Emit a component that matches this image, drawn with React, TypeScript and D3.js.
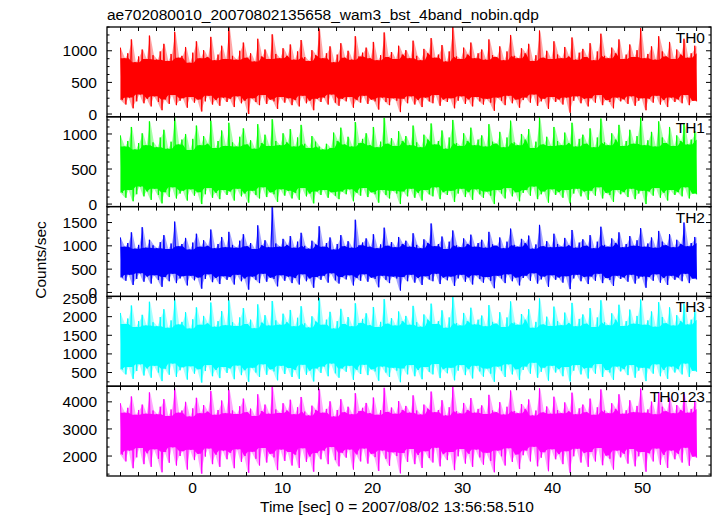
import React from 'react';
import * as d3 from 'd3';

// ---- data ----
const T_START = -8;
const T_END = 56;
const X_TICK_VALUES = d3.range(-8, 57, 2);
const X_TICK_LABELS = [0, 10, 20, 30, 40, 50];

const TITLE = 'ae702080010_20070802135658_wam3_bst_4band_nobin.qdp';
const X_TITLE = 'Time [sec] 0 = 2007/08/02 13:56:58.510';
const Y_TITLE = 'Counts/sec';

const panelNames = ['TH0', 'TH1', 'TH2', 'TH3', 'TH0123'];
const panelColors = ['#ff0000', '#00ff00', '#0000ff', '#00ffff', '#ff00ff'];
const panelDomains = [[-44, 1376], [-36, 1245], [-85, 1842], [133, 2544], [1263, 4578]];
const panelTickLabels = [
  [0, 500, 1000],
  [0, 500, 1000],
  [0, 500, 1000, 1500],
  [500, 1000, 1500, 2000, 2500],
  [2000, 3000, 4000],
];
const panelMajorStep = [500, 500, 500, 500, 1000];
const panelMinorDiv = [4, 5, 3, 2, 3];

// upper / lower envelope per 0.4 s bin
const th0Hi = [
  1050, 880, 960, 1180, 820, 910, 1020, 870, 1240, 930,
  860, 990, 1110, 840, 950, 1300, 890, 920, 1060, 810,
  970, 1150, 880, 1010, 900, 1220, 850, 940, 1080, 870,
  1380, 920, 860, 1000, 1130, 890, 960, 830, 1190, 910,
  1020, 870, 1260, 950, 880, 1040, 920, 1100, 860, 990,
  1170, 900, 840, 1010, 930, 1350, 880, 960, 1070, 820,
  940, 1120, 890, 1000, 860, 1230, 910, 970, 1050, 880,
  1140, 850, 930, 1290, 900, 980, 870, 1080, 940, 1010,
  880, 1160, 920, 850, 1030, 960, 1200, 890, 940, 1090,
  830, 990, 1380, 910, 870, 1050, 940, 1130, 880, 960,
  1020, 860, 1180, 930, 900, 1070, 850, 990, 1250, 920,
  880, 1040, 960, 1110, 840, 930, 1320, 890, 1000, 870,
  1150, 940, 880, 1060, 910, 1210, 860, 970, 1030, 900,
  1120, 850, 990, 1270, 920, 880, 1050, 960, 1180, 870,
  940, 1100, 900, 1010, 1360, 880, 950, 1070, 860, 1230,
  990, 910, 1140, 870, 1020, 940, 1190, 890, 960, 1080,
];
const th0Lo = [
  220, 150, 260, 90, 200, 310, 170, 240, 120, 280,
  190, 60, 230, 160, 300, 140, 210, 250, 100, 270,
  180, 230, 40, 200, 290, 150, 220, 130, 260, 190,
  240, 110, 280, 170, 210, 0, 250, 190, 140, 300,
  160, 230, 200, 80, 270, 180, 250, 140, 220, 120,
  290, 170, 210, 60, 240, 190, 260, 150, 310, 180,
  130, 240, 200, 270, 100, 220, 180, 290, 160, 230,
  200, 70, 260, 190, 140, 250, 210, 30, 240, 170,
  280, 150, 220, 110, 260, 200, 170, 300, 130, 230,
  190, 250, 90, 210, 280, 160, 230, 120, 270, 200,
  150, 240, 180, 50, 260, 210, 140, 290, 170, 230,
  100, 220, 260, 180, 310, 130, 200, 240, 80, 270,
  190, 230, 150, 260, 20, 210, 280, 170, 240, 120,
  250, 180, 300, 140, 220, 190, 90, 260, 200, 230,
  160, 280, 130, 210, 250, 60, 240, 180, 290, 150,
  220, 110, 260, 190, 230, 170, 300, 140, 210, 200,
];
const th1Hi = [
  980, 820, 900, 1100, 780, 870, 1010, 840, 1180, 880,
  810, 950, 1060, 790, 890, 1240, 850, 920, 1000, 770,
  930, 1120, 840, 970, 860, 1190, 800, 900, 1050, 830,
  1160, 880, 820, 960, 1080, 850, 910, 790, 1140, 870,
  990, 830, 1210, 900, 840, 1010, 880, 1070, 820, 950,
  1130, 860, 800, 970, 890, 820, 780, 860, 800, 1020,
  900, 1090, 850, 960, 820, 1170, 870, 930, 1010, 840,
  1100, 810, 890, 1230, 860, 940, 830, 1040, 900, 970,
  840, 1120, 880, 810, 990, 920, 1150, 850, 900, 1050,
  790, 950, 1200, 870, 830, 1010, 900, 1090, 840, 920,
  980, 820, 1140, 890, 860, 1030, 810, 950, 1190, 880,
  840, 1000, 920, 1070, 800, 890, 1240, 850, 960, 830,
  1100, 900, 840, 1020, 870, 1160, 820, 930, 990, 860,
  1080, 810, 950, 1220, 880, 840, 1010, 920, 1130, 830,
  900, 1060, 860, 970, 1240, 840, 910, 1030, 820, 1180,
  950, 870, 1100, 830, 980, 900, 1150, 850, 920, 1040,
];
const th1Lo = [
  160, 90, 200, 40, 140, 250, 110, 180, 60, 220,
  130, 10, 170, 100, 240, 80, 150, 190, 50, 210,
  120, 170, 0, 140, 230, 90, 160, 70, 200, 130,
  180, 50, 220, 110, 150, 20, 190, 130, 80, 240,
  100, 170, 140, 30, 210, 120, 190, 80, 160, 60,
  230, 110, 150, 10, 180, 130, 200, 90, 170, 120,
  70, 180, 140, 210, 40, 160, 120, 230, 100, 170,
  140, 20, 200, 130, 80, 190, 150, 0, 180, 110,
  220, 90, 160, 50, 200, 140, 110, 240, 70, 170,
  130, 190, 30, 150, 220, 100, 170, 60, 210, 140,
  90, 180, 120, 0, 200, 150, 80, 230, 110, 170,
  40, 160, 200, 120, 250, 70, 140, 180, 20, 210,
  130, 170, 90, 200, 10, 150, 220, 110, 180, 60,
  190, 120, 240, 80, 160, 130, 30, 200, 140, 170,
  100, 220, 70, 150, 190, 0, 180, 120, 230, 90,
  160, 50, 200, 130, 170, 110, 240, 80, 150, 140,
];
const th2Hi = [
  1180, 980, 1060, 1290, 940, 1020, 1400, 960, 1130, 1010,
  950, 1080, 1230, 930, 1050, 1520, 990, 1040, 1170, 920,
  1070, 1260, 980, 1120, 1000, 1350, 950, 1040, 1190, 970,
  1300, 1020, 960, 1110, 1250, 990, 1060, 930, 1440, 1010,
  1120, 970, 1850, 1050, 980, 1150, 1020, 1210, 960, 1090,
  1280, 1000, 940, 1110, 1030, 1420, 980, 1060, 1180, 920,
  1040, 1230, 990, 1100, 960, 1560, 1010, 1070, 1160, 980,
  1250, 950, 1030, 1390, 1000, 1080, 970, 1190, 1040, 1110,
  980, 1270, 1020, 950, 1140, 1060, 1480, 990, 1040, 1200,
  930, 1090, 1330, 1010, 970, 1160, 1040, 1240, 980, 1060,
  1130, 960, 1300, 1030, 1000, 1180, 950, 1090, 1370, 1020,
  980, 1150, 1060, 1220, 940, 1030, 1450, 990, 1100, 970,
  1260, 1040, 980, 1170, 1010, 1340, 960, 1070, 1140, 1000,
  1230, 950, 1090, 1410, 1020, 980, 1160, 1060, 1290, 970,
  1040, 1210, 1000, 1120, 1380, 980, 1050, 1180, 960, 1320,
  1090, 1010, 1250, 970, 1130, 1040, 1500, 990, 1060, 1190,
];
const th2Lo = [
  320, 250, 380, 160, 290, 410, 230, 340, 190, 370,
  270, 120, 330, 240, 400, 200, 300, 350, 150, 360,
  260, 320, 80, 290, 390, 220, 310, 180, 350, 270,
  330, 170, 380, 240, 300, 60, 340, 270, 200, 400,
  230, 320, 290, 130, 370, 250, 340, 200, 310, 170,
  390, 240, 300, 100, 330, 270, 360, 210, 410, 260,
  190, 330, 280, 370, 150, 310, 250, 390, 230, 320,
  290, 110, 360, 270, 200, 340, 300, 40, 330, 240,
  380, 210, 310, 160, 350, 280, 240, 400, 180, 320,
  260, 340, 140, 300, 380, 230, 320, 170, 370, 290,
  210, 330, 250, 90, 360, 300, 200, 390, 240, 320,
  150, 310, 360, 250, 410, 190, 280, 340, 120, 370,
  270, 320, 210, 350, 70, 300, 380, 240, 330, 180,
  340, 250, 400, 200, 310, 270, 140, 360, 290, 320,
  230, 380, 190, 300, 340, 100, 330, 250, 390, 210,
  310, 160, 360, 270, 320, 240, 400, 200, 300, 280,
];
const th3Hi = [
  2100, 1800, 1950, 2300, 1720, 1880, 2050, 1760, 2400, 1850,
  1740, 1990, 2200, 1700, 1900, 2480, 1790, 1860, 2120, 1680,
  1930, 2250, 1780, 2020, 1820, 2380, 1730, 1880, 2150, 1770,
  2450, 1850, 1750, 1980, 2230, 1800, 1920, 1690, 2330, 1840,
  2040, 1760, 2420, 1900, 1780, 2080, 1850, 2180, 1740, 1970,
  2280, 1820, 1710, 2010, 1870, 2500, 1780, 1920, 2130, 1680,
  1880, 2210, 1800, 1990, 1740, 2360, 1830, 1940, 2090, 1770,
  2260, 1720, 1860, 2470, 1810, 1960, 1760, 2140, 1880, 2020,
  1780, 2290, 1850, 1730, 2060, 1920, 2350, 1800, 1880, 2170,
  1700, 1980, 2540, 1830, 1760, 2100, 1880, 2240, 1790, 1920,
  2030, 1740, 2310, 1860, 1810, 2120, 1720, 1980, 2410, 1840,
  1780, 2070, 1920, 2200, 1700, 1860, 2490, 1790, 2000, 1750,
  2270, 1880, 1770, 2110, 1830, 2370, 1740, 1940, 2060, 1810,
  2230, 1720, 1980, 2440, 1850, 1770, 2090, 1920, 2320, 1750,
  1880, 2190, 1810, 2020, 2460, 1780, 1900, 2140, 1730, 2390,
  1990, 1820, 2250, 1760, 2040, 1880, 2350, 1790, 1920, 2160,
];
const th3Lo = [
  580, 450, 650, 330, 540, 720, 420, 610, 360, 680,
  500, 270, 600, 440, 740, 380, 560, 640, 310, 670,
  470, 590, 230, 540, 700, 400, 570, 350, 650, 490,
  610, 320, 690, 430, 560, 250, 630, 500, 380, 720,
  440, 590, 530, 290, 680, 460, 620, 380, 570, 330,
  710, 440, 550, 260, 610, 490, 660, 400, 740, 480,
  360, 610, 520, 680, 300, 570, 460, 710, 430, 590,
  530, 280, 660, 500, 380, 630, 550, 240, 610, 450,
  700, 400, 570, 320, 650, 520, 450, 730, 350, 590,
  480, 630, 290, 550, 700, 430, 590, 340, 680, 530,
  390, 610, 470, 250, 660, 550, 380, 720, 450, 590,
  300, 570, 660, 470, 760, 360, 520, 630, 280, 680,
  500, 590, 400, 650, 260, 550, 700, 450, 610, 340,
  630, 470, 730, 380, 570, 500, 300, 660, 530, 590,
  430, 700, 360, 550, 630, 270, 610, 470, 720, 400,
  570, 330, 660, 500, 590, 450, 740, 380, 550, 520,
];
const th0123Hi = [
  3950, 3600, 3780, 4200, 3520, 3700, 3900, 3560, 4350, 3680,
  3540, 3820, 4100, 3480, 3720, 4500, 3600, 3680, 4000, 3460,
  3760, 4150, 3580, 3880, 3640, 4400, 3520, 3700, 4050, 3580,
  4450, 3680, 3550, 3840, 4120, 3620, 3750, 3480, 4280, 3660,
  3900, 3560, 4550, 3720, 3590, 3950, 3680, 4080, 3540, 3800,
  4180, 3640, 3500, 3860, 3700, 4480, 3600, 3740, 4020, 3460,
  3700, 4100, 3620, 3820, 3540, 4320, 3660, 3780, 3960, 3580,
  4160, 3520, 3690, 4520, 3630, 3790, 3560, 4030, 3700, 3850,
  3600, 4240, 3680, 3530, 3900, 3750, 4380, 3620, 3700, 4060,
  3500, 3800, 4560, 3660, 3570, 3960, 3700, 4140, 3600, 3740,
  3870, 3550, 4260, 3680, 3620, 3990, 3530, 3820, 4420, 3660,
  3580, 3920, 3740, 4090, 3500, 3680, 4500, 3610, 3830, 3560,
  4190, 3700, 3580, 3980, 3650, 4340, 3540, 3760, 3900, 3620,
  4120, 3520, 3800, 4460, 3680, 3580, 3950, 3740, 4280, 3560,
  3690, 4060, 3620, 3850, 4490, 3600, 3720, 4010, 3540, 4360,
  3820, 3650, 4150, 3580, 3880, 3700, 4300, 3600, 3740, 4040,
];
const th0123Lo = [
  2050, 1800, 2200, 1550, 1950, 2300, 1700, 2100, 1600, 2250,
  1900, 1400, 2150, 1750, 2320, 1650, 2000, 2180, 1500, 2230,
  1850, 2080, 1350, 1980, 2280, 1700, 2050, 1600, 2200, 1880,
  2120, 1550, 2250, 1780, 2000, 1380, 2160, 1900, 1650, 2300,
  1760, 2080, 1950, 1480, 2240, 1820, 2150, 1650, 2050, 1560,
  2290, 1780, 1980, 1420, 2110, 1880, 2200, 1700, 2330, 1850,
  1620, 2120, 1940, 2240, 1500, 2060, 1800, 2280, 1720, 2080,
  1960, 1450, 2200, 1900, 1640, 2140, 2000, 1360, 2110, 1780,
  2260, 1700, 2040, 1560, 2180, 1930, 1760, 2310, 1620, 2070,
  1850, 2150, 1480, 1990, 2260, 1720, 2080, 1600, 2240, 1950,
  1680, 2120, 1820, 1400, 2200, 1990, 1650, 2290, 1780, 2060,
  1520, 2030, 2200, 1800, 2340, 1620, 1940, 2140, 1440, 2250,
  1880, 2070, 1700, 2180, 1380, 1990, 2270, 1760, 2110, 1600,
  2150, 1800, 2300, 1660, 2020, 1900, 1500, 2200, 1950, 2080,
  1720, 2260, 1620, 1990, 2150, 1420, 2100, 1800, 2280, 1680,
  2040, 1560, 2200, 1880, 2080, 1760, 2310, 1640, 1980, 1940,
];

const seriesHi = [th0Hi, th1Hi, th2Hi, th3Hi, th0123Hi];
const seriesLo = [th0Lo, th1Lo, th2Lo, th3Lo, th0123Lo];

// ---- layout ----
const W = 717;
const H = 516;
const LEFT = 107;
const RIGHT = 711;
const TOP = 27;
const BOTTOM = 476;
const NP = 5;
const PH = (BOTTOM - TOP) / NP;
const FONT = '"Liberation Sans", Arial, Helvetica, sans-serif';
const FS = 15.5;

const x = d3.scaleLinear().domain([-9.5, 57.6]).range([LEFT, RIGHT]);

type Bin = { t: number; hi: number; lo: number; coreHi: number; coreLo: number };

export default function App() {
  return (
    <svg width={W} height={H} style={{ position: 'absolute', left: 0, top: 0, background: '#fff' }}
      fontFamily={FONT} fontSize={FS}>
      <rect x={0} y={0} width={W} height={H} fill="#fff" />
      <defs>
        {panelNames.map((_, p) => (
          <clipPath id={`clip${p}`} key={p}>
            <rect x={LEFT} y={TOP + p * PH} width={RIGHT - LEFT} height={PH} />
          </clipPath>
        ))}
      </defs>
      {panelNames.map((name, p) => {
        const y0 = TOP + p * PH;
        const y1 = y0 + PH;
        const [d0, d1] = panelDomains[p];
        const y = d3.scaleLinear().domain([d0, d1]).range([y1, y0]);
        const hi = seriesHi[p];
        const lo = seriesLo[p];
        const n = hi.length;
        const tAt = (k: number) => T_START + ((T_END - T_START) * k) / (2 * n - 1);
        const pts: [number, number][] = [];
        const bins: Bin[] = [];
        for (let i = 0; i < n; i++) {
          pts.push([tAt(2 * i), hi[i]]);
          pts.push([tAt(2 * i + 1), lo[i]]);
          const a = Math.max(0, i - 1);
          const b = Math.min(n - 1, i + 1);
          bins.push({
            t: tAt(2 * i + 0.5),
            hi: hi[i],
            lo: lo[i],
            coreHi: d3.min(hi.slice(a, b + 1)) as number,
            coreLo: d3.max(lo.slice(a, b + 1)) as number,
          });
        }
        bins[0].t = T_START;
        bins[n - 1].t = T_END;
        const line = d3.line<[number, number]>().x((d) => x(d[0])).y((d) => y(d[1]));
        const envArea = d3.area<Bin>().x((d) => x(d.t)).y0((d) => y(d.lo)).y1((d) => y(d.hi));
        const coreArea = d3.area<Bin>().x((d) => x(d.t)).y0((d) => y(d.coreLo)).y1((d) => y(d.coreHi));
        const major = panelMajorStep[p];
        const minorStep = major / panelMinorDiv[p];
        const minorTicks: number[] = [];
        for (let v = Math.ceil(d0 / minorStep) * minorStep; v <= d1 + 1e-6; v += minorStep) {
          minorTicks.push(v);
        }
        const col = panelColors[p];
        return (
          <g key={name}>
            <g clipPath={`url(#clip${p})`}>
              <path d={envArea(bins) || ''} fill={col} fillOpacity={0.35} stroke="none" />
              <path d={coreArea(bins) || ''} fill={col} stroke="none" />
              <path d={line(pts) || ''} fill="none" stroke={col} strokeWidth={1}
                strokeLinejoin="round" />
            </g>
            <rect x={LEFT} y={y0} width={RIGHT - LEFT} height={PH} fill="none" stroke="#000" strokeWidth={1.3} />
            {X_TICK_VALUES.map((t) => (
              <g key={`xt${t}`} stroke="#000" strokeWidth={1}>
                <line x1={x(t)} x2={x(t)} y1={y0} y2={y0 + 4} />
                <line x1={x(t)} x2={x(t)} y1={y1} y2={y1 - 4} />
              </g>
            ))}
            {minorTicks.map((v) => {
              const isMajor = Math.abs(v / major - Math.round(v / major)) < 1e-6;
              const len = isMajor ? 5 : 2.5;
              return (
                <g key={`yt${v}`} stroke="#000" strokeWidth={1}>
                  <line x1={LEFT} x2={LEFT + len} y1={y(v)} y2={y(v)} />
                  <line x1={RIGHT} x2={RIGHT - len} y1={y(v)} y2={y(v)} />
                </g>
              );
            })}
            {panelTickLabels[p].map((v) => (
              <text key={`yl${v}`} x={97} y={y(v)} dy="0.36em" textAnchor="end" fill="#000">{v}</text>
            ))}
            <text x={705} y={y0 + 16} textAnchor="end" fill="#000">{name}</text>
          </g>
        );
      })}
      {X_TICK_LABELS.map((t) => (
        <text key={`xl${t}`} x={x(t)} y={493} textAnchor="middle" fill="#000">{t}</text>
      ))}
      <text x={LEFT} y={20} fill="#000">{TITLE}</text>
      <text x={260} y={512} fill="#000">{X_TITLE}</text>
      <text transform="translate(46,260) rotate(-90)" textAnchor="middle" fill="#000">{Y_TITLE}</text>
    </svg>
  );
}
